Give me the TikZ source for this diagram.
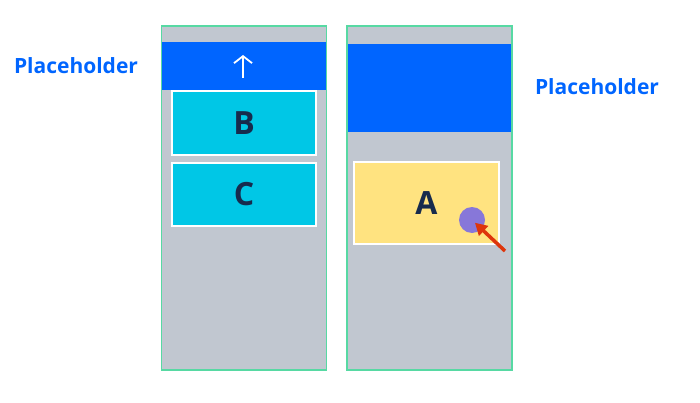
\documentclass[tikz,border=0pt]{standalone}
\usepackage{fontspec}
\setmainfont{Open Sans}
\usepackage{tikz}
\usetikzlibrary{arrows.meta, positioning}
\definecolor{panelgray}{HTML}{C1C7D0}
\definecolor{panelgreen}{HTML}{57D9A3}
\definecolor{barblue}{HTML}{0065FF}
\definecolor{cardcyan}{HTML}{00C7E6}
\definecolor{cardyellow}{HTML}{FFE380}
\definecolor{inknavy}{HTML}{172B4D}
\definecolor{dotpurple}{HTML}{8777D9}
\definecolor{arrred}{HTML}{DE350B}

\begin{document}
\begin{tikzpicture}[x=1pt, y=-1pt,
        every node/.style={inner sep=0pt, outer sep=0pt},
        panel/.style={draw=panelgreen, line width=1.5pt, fill=panelgray,
                      minimum width=165pt, minimum height=344pt},
        bar/.style={fill=barblue},
        card/.style={draw=white, line width=2pt, text=inknavy,
                     font=\bfseries\fontsize{32}{32}\selectfont},
        label/.style={text=barblue, font=\bfseries\fontsize{21}{21}\selectfont},
        redarr/.style={-{Triangle[length=12pt, width=13pt]}, draw=arrred, line width=3.5pt}
    ]
        \useasboundingbox (0,0) rectangle (700,403);
        % left panel
        \node[panel] (left) at (244,198) {};
        \node[bar, minimum width=163.5pt, minimum height=48pt] (lbar) at (244,66) {};
        \coordinate (upbot) at (243,78);
        \coordinate (uptop) at (243,55);
        \draw[white, line width=1.8pt, -{Straight Barb[length=7pt, width=18pt]}] (upbot) -- (uptop);
        \node[card, fill=cardcyan, minimum width=144pt, minimum height=64pt] (b) at (244,123) {B};
        \node[card, fill=cardcyan, minimum width=144pt, minimum height=63pt] (c) at (244,194.5) {C};
        \node[label] (ltext) at (76,66) {Placeholder};
        % right panel
        \node[panel] (right) at (429.5,198) {};
        \node[bar, minimum width=163.5pt, minimum height=88pt] (rbar) at (429.5,88) {};
        \node[card, fill=cardyellow, minimum width=145pt, minimum height=82pt] (a) at (426.5,203) {A};
        \node[circle, fill=dotpurple, minimum size=26pt] (dot) at (472,220) {};
        \coordinate (tail) at (505,251);
        \draw[redarr, shorten >=4pt] (tail) -- (dot.center);
        \node[label] (rtext) at (597,87) {Placeholder};
    \end{tikzpicture}
\end{document}
